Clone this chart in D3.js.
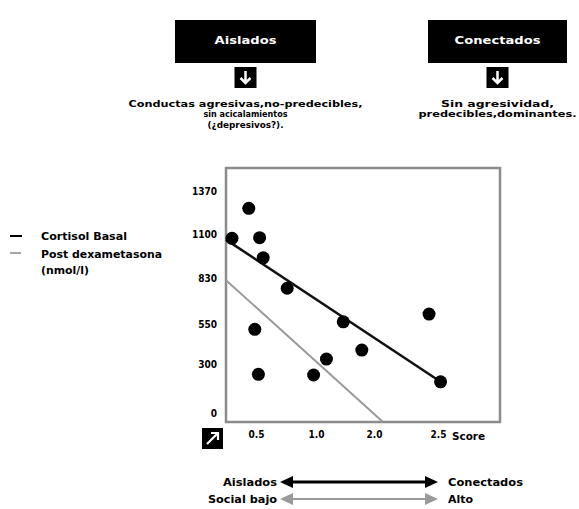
<!DOCTYPE html>
<html>
<head>
<meta charset="utf-8">
<script src="https://cdn.jsdelivr.net/npm/d3@7"></script>
<style>
  html, body { margin: 0; padding: 0; background: #fff; }
  svg { display: block; }
  text { font-family: "DejaVu Sans Condensed", "Liberation Sans Narrow", sans-serif; font-weight: bold; fill: #000; }
</style>
</head>
<body>
<svg id="chart" width="579" height="509"></svg>
<script>
// Score vs. cortisol (nmol/l)
const scores  = [0.30, 0.44, 0.53, 0.56, 0.76, 0.49, 0.52, 0.98, 1.18, 1.47, 1.79, 2.43, 2.52];
const cortisol = [1078, 1263, 1082, 958, 770, 517, 239, 235, 333, 563, 389, 611, 193];

// Fitted lines (end points in score / nmol/l)
const basalFit = [[0.25, 1070], [2.52, 193]];
const postFit  = [[0.25, 820], [2.07, -55]];

const yTicks = [0, 300, 550, 830, 1100, 1370];
const xTicks = [0.5, 1.0, 2.0, 2.5];
const xTickLabels = ["0.5", "1.0", "2.0", "2.5"];

const groupTitles = ["Aislados", "Conectados"];
const groupNotes = [
  ["Conductas agresivas,no-predecibles,", "sin acicalamientos", "(¿depresivos?)."],
  ["Sin agresividad,", "predecibles,dominantes."]
];
const legendItems = ["Cortisol Basal", "Post dexametasona", "(nmol/l)"];

const svg = d3.select("#chart");
const FONT = '"DejaVu Sans Condensed", "Liberation Sans Narrow", sans-serif';

// plot frame
const plot = { left: 226, right: 500, top: 168, bottom: 422 };

const x = d3.scaleLinear()
  .domain([0.25, 0.5, 1.0, 2.0, 2.5, 2.98])
  .range([226, 256, 316, 374, 438, 500]);
const y = d3.scaleLinear()
  .domain([-55, 1512])
  .range([plot.bottom, plot.top]);

// ---- group headers ----
const headerCenters = [245.5, 497.5];
const headerWidths = [141, 139];
const noteWidths = [[234, 84, 76], [113, 158]];

groupTitles.forEach((t, i) => {
  const cx = headerCenters[i];
  const g = svg.append("g");
  g.append("rect")
    .attr("x", cx - headerWidths[i] / 2).attr("y", 20)
    .attr("width", headerWidths[i]).attr("height", 43)
    .attr("fill", "#000");
  g.append("text")
    .attr("x", cx).attr("y", 44)
    .attr("text-anchor", "middle")
    .attr("font-size", 11)
    .attr("textLength", i === 0 ? 62 : 86)
    .attr("lengthAdjust", "spacingAndGlyphs")
    .style("fill", "#fff")
    .text(t);
  // small arrow badge
  g.append("rect")
    .attr("x", cx - 11).attr("y", 67)
    .attr("width", 22).attr("height", 21)
    .attr("fill", "#000");
  g.append("path")
    .attr("d", `M${cx},71 L${cx},83 M${cx - 5},78 L${cx},83 L${cx + 5},78`)
    .attr("stroke", "#fff").attr("stroke-width", 2.5)
    .attr("fill", "none");
  groupNotes[i].forEach((line, j) => {
    g.append("text")
      .attr("x", cx).attr("y", 106.5 + j * 10.5)
      .attr("text-anchor", "middle")
      .attr("font-size", 9)
      .attr("textLength", noteWidths[i][j])
      .attr("lengthAdjust", "spacingAndGlyphs")
      .text(line);
  });
});

// ---- frame ----
svg.append("rect")
  .attr("x", plot.left).attr("y", plot.top)
  .attr("width", plot.right - plot.left).attr("height", plot.bottom - plot.top)
  .attr("fill", "none")
  .attr("stroke", "#8c8c8c")
  .attr("stroke-width", 2.5);

// ---- axes ----
const yAxis = svg.append("g")
  .attr("transform", `translate(${plot.left},0)`)
  .call(d3.axisLeft(y).tickValues(yTicks).tickSize(0).tickPadding(9).tickFormat(d3.format("d")));
yAxis.select(".domain").remove();
yAxis.selectAll("text")
  .style("font-family", FONT)
  .style("font-weight", "bold")
  .attr("font-size", 10);

const xAxis = svg.append("g")
  .attr("transform", `translate(0,${plot.bottom})`)
  .call(d3.axisBottom(x).tickValues(xTicks).tickSize(0).tickPadding(9)
    .tickFormat((d, i) => xTickLabels[i]));
xAxis.select(".domain").remove();
xAxis.selectAll("text")
  .style("font-family", FONT)
  .style("font-weight", "bold")
  .attr("font-size", 10);

svg.append("text")
  .attr("x", x(2.5) + 14).attr("y", plot.bottom + 18)
  .attr("font-size", 10)
  .attr("textLength", 33)
  .attr("lengthAdjust", "spacingAndGlyphs")
  .text("Score");

// corner badge
svg.append("rect")
  .attr("x", 202).attr("y", 428).attr("width", 21).attr("height", 21)
  .attr("fill", "#000");
svg.append("path")
  .attr("d", "M207,444 L218,433 M211,433 L218,433 L218,440")
  .attr("stroke", "#fff").attr("stroke-width", 2.2).attr("fill", "none");

// ---- fitted lines ----
const line = d3.line().x(d => x(d[0])).y(d => y(d[1]));
svg.append("path").datum(postFit)
  .attr("d", line)
  .attr("stroke", "#9a9a9a").attr("stroke-width", 2)
  .attr("fill", "none");
svg.append("path").datum(basalFit)
  .attr("d", line)
  .attr("stroke", "#111").attr("stroke-width", 2.5)
  .attr("fill", "none");

// ---- points ----
svg.append("g").selectAll("circle")
  .data(scores.map((s, i) => [s, cortisol[i]]))
  .join("circle")
  .attr("cx", d => x(d[0]))
  .attr("cy", d => y(d[1]))
  .attr("r", 6.5)
  .attr("fill", "#000");

// ---- legend ----
const legendY = [236, 254, 270];
const legendWidths = [86, 121, 48];
svg.append("line").attr("x1", 10).attr("x2", 22).attr("y1", 236).attr("y2", 236)
  .attr("stroke", "#000").attr("stroke-width", 2);
svg.append("line").attr("x1", 10).attr("x2", 21).attr("y1", 253).attr("y2", 253)
  .attr("stroke", "#888").attr("stroke-width", 1.5);
legendItems.forEach((t, i) => {
  svg.append("text")
    .attr("x", 41).attr("y", legendY[i] + 4)
    .attr("font-size", 10)
    .attr("textLength", legendWidths[i])
    .attr("lengthAdjust", "spacingAndGlyphs")
    .text(t);
});

// ---- bottom scale arrows ----
const arrowRows = [
  { left: "Aislados", right: "Conectados", y: 482, color: "#000", w: 3, lw: 54, rw: 75 },
  { left: "Social bajo", right: "Alto", y: 499, color: "#9a9a9a", w: 2, lw: 69, rw: 25 }
];
arrowRows.forEach(r => {
  svg.append("line")
    .attr("x1", 290).attr("x2", 428).attr("y1", r.y).attr("y2", r.y)
    .attr("stroke", r.color).attr("stroke-width", r.w);
  svg.append("path")
    .attr("d", `M280,${r.y} L293,${r.y - 6} L293,${r.y + 6} Z`)
    .attr("fill", r.color);
  svg.append("path")
    .attr("d", `M438,${r.y} L425,${r.y - 6} L425,${r.y + 6} Z`)
    .attr("fill", r.color);
  svg.append("text")
    .attr("x", 277).attr("y", r.y + 4)
    .attr("text-anchor", "end")
    .attr("font-size", 10.5)
    .attr("textLength", r.lw)
    .attr("lengthAdjust", "spacingAndGlyphs")
    .text(r.left);
  svg.append("text")
    .attr("x", 448).attr("y", r.y + 4)
    .attr("font-size", 10.5)
    .attr("textLength", r.rw)
    .attr("lengthAdjust", "spacingAndGlyphs")
    .text(r.right);
});
</script>
</body>
</html>
